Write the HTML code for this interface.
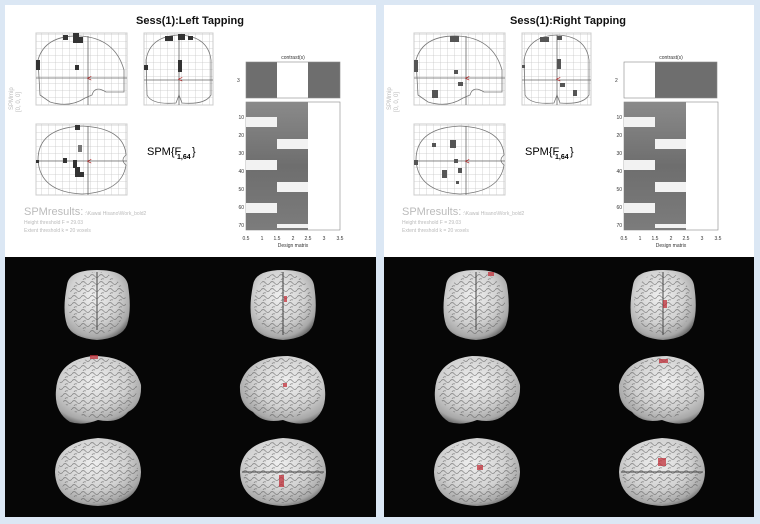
<!DOCTYPE html>
<html><head><meta charset="utf-8"><style>
html,body{margin:0;padding:0;background:#dbe7f4;width:760px;height:524px;overflow:hidden}
svg{display:block}
text{font-family:"Liberation Sans",Arial,sans-serif}
</style></head><body>
<svg width="760" height="524" viewBox="0 0 760 524" xmlns="http://www.w3.org/2000/svg">
<defs>
<pattern id="grid" width="7" height="7" patternUnits="userSpaceOnUse">
<path d="M7 0V7M0 7H7" stroke="#c8c8c8" stroke-width="0.8" fill="none"/>
</pattern>
<radialGradient id="br" cx="45%" cy="38%" r="68%">
<stop offset="0" stop-color="#efefef"/><stop offset="0.55" stop-color="#d2d2d2"/><stop offset="0.85" stop-color="#a8a8a8"/><stop offset="1" stop-color="#5a5a5a"/>
</radialGradient>
<linearGradient id="cg" x1="0" y1="0" x2="0" y2="1">
<stop offset="0" stop-color="#8a8a8a"/><stop offset="0.5" stop-color="#6e6e6e"/><stop offset="1" stop-color="#7c7c7c"/>
</linearGradient>
<pattern id="gyri" width="9" height="7" patternUnits="userSpaceOnUse">
<path d="M0 3 Q2 0 4.5 3 T9 3 M2 7 Q3 5 5 6" stroke="#555" stroke-width="0.9" fill="none" opacity="0.55"/>
</pattern>
<g id="glass">
<rect x="36" y="33" width="91" height="72" fill="url(#grid)" stroke="#ccc"/>
<path d="M40 95 L38 60 Q45 35 80 36 Q115 38 124 70 L124 92 L106 92 Q95 85 92 95 L85 98 Q70 108 50 102 Z" fill="none" stroke="#777" stroke-width="0.8"/>
<line x1="88" y1="36" x2="88" y2="105" stroke="#666" stroke-width="0.8"/>
<line x1="36" y1="78" x2="127" y2="78" stroke="#666" stroke-width="0.8"/>
<rect x="144" y="33" width="69" height="72" fill="url(#grid)" stroke="#ccc"/>
<path d="M147 95 L146 60 Q150 36 179 35 Q208 36 211 60 L211 95 Q205 105 182 103 L179 95 L176 103 Q152 105 147 95 Z" fill="none" stroke="#777" stroke-width="0.8"/>
<line x1="179" y1="35" x2="179" y2="105" stroke="#666" stroke-width="0.8"/>
<line x1="144" y1="80" x2="213" y2="80" stroke="#666" stroke-width="0.8"/>
<rect x="36" y="124" width="91" height="71" fill="url(#grid)" stroke="#ccc"/>
<path d="M38 160 Q38 128 82 126 Q124 128 126 155 Q120 160 126 165 Q122 192 82 194 Q40 192 38 160 Z" fill="none" stroke="#777" stroke-width="0.8"/>
<line x1="88" y1="126" x2="88" y2="195" stroke="#666" stroke-width="0.8"/>
<line x1="36" y1="161" x2="127" y2="161" stroke="#666" stroke-width="0.8"/>
<text x="147" y="155" font-size="11" fill="#000">SPM{F</text><text x="177" y="159" font-size="7" fill="#000" font-weight="bold">1,64</text><text x="192" y="155" font-size="11">}</text>
<text x="24" y="215" font-size="11" fill="#bbb">SPMresults:</text><text x="85" y="215" font-size="5" fill="#bbb">:\Kawai Hisano\Work_bold2</text>
<text x="24" y="224" font-size="5" fill="#bbb">Height threshold F = 29.03</text>
<text x="24" y="232" font-size="5" fill="#bbb">Extent threshold k = 20 voxels</text>
<text x="13" y="110" font-size="6" fill="#bbb" transform="rotate(-90 13 110)">SPMmip</text>
<text x="20" y="112" font-size="6" fill="#bbb" transform="rotate(-90 20 112)">[0, 0, 0]</text>
<text x="293" y="59" font-size="5" fill="#333" text-anchor="middle">contrast(s)</text>
<rect x="246" y="102" width="94" height="128" fill="#fff" stroke="#888" stroke-width="0.6"/>
<text x="293" y="247" font-size="5" fill="#333" text-anchor="middle">Design matrix</text>
<g font-size="5" fill="#333" text-anchor="middle">
<text x="246" y="240">0.5</text><text x="262" y="240">1</text><text x="277" y="240">1.5</text><text x="293" y="240">2</text><text x="308" y="240">2.5</text><text x="324" y="240">3</text><text x="340" y="240">3.5</text>
</g>
<g font-size="5" fill="#333" text-anchor="end">
<text x="244" y="119">10</text><text x="244" y="137">20</text><text x="244" y="155">30</text><text x="244" y="173">40</text><text x="244" y="191">50</text><text x="244" y="209">60</text><text x="244" y="227">70</text>
</g>
<rect x="246" y="102" width="31" height="128" fill="url(#cg)"/>
<rect x="246" y="117" width="31" height="10" fill="#f2f2f2"/>
<rect x="246" y="160" width="31" height="10" fill="#f2f2f2"/>
<rect x="246" y="203" width="31" height="10" fill="#f2f2f2"/>
<rect x="277" y="102" width="31" height="128" fill="url(#cg)"/>
<rect x="277" y="139" width="31" height="10" fill="#f2f2f2"/>
<rect x="277" y="182" width="31" height="10" fill="#f2f2f2"/>
<rect x="277" y="224" width="31" height="4" fill="#f2f2f2"/>
</g>
<path id="front" d="M-30 -20 Q-28 -35 0 -35 Q28 -35 31 -20 Q35 5 30 20 Q25 33 0 35 Q-25 33 -30 20 Q-35 5 -30 -20 Z"/>
<path id="lat" d="M-42 0 Q-40 -30 -5 -34 Q35 -34 43 -5 Q44 15 30 22 Q20 34 0 30 Q-15 36 -28 32 Q-44 22 -42 0 Z"/>
<path id="bot" d="M-43 0 Q-42 -30 0 -34 Q42 -32 43 0 Q42 32 0 34 Q-42 32 -43 0 Z"/>
</defs>

<rect x="5" y="5" width="371" height="252" fill="#fff"/>
<rect x="384" y="5" width="370" height="252" fill="#fff"/>
<rect x="5" y="257" width="371" height="260" fill="#060606"/>
<rect x="384" y="257" width="370" height="260" fill="#060606"/>

<text x="190" y="24" font-size="11" text-anchor="middle" font-weight="bold" fill="#111">Sess(1):Left Tapping</text>
<use href="#glass"/>
<rect x="246" y="62" width="31" height="36" fill="#6e6e6e"/>
<rect x="277" y="62" width="31" height="36" fill="#fff"/>
<rect x="308" y="62" width="32" height="36" fill="#6e6e6e"/>
<rect x="246" y="62" width="94" height="36" fill="none" stroke="#888" stroke-width="0.6"/>
<text x="237" y="82" font-size="5" fill="#333">3</text>
<g fill="#333">
<rect x="63" y="35" width="5" height="5"/><rect x="73" y="33" width="6" height="10"/><rect x="78" y="37" width="5" height="6"/>
<rect x="36" y="60" width="4" height="10"/><rect x="75" y="65" width="4" height="5"/>
<rect x="165" y="36" width="8" height="5"/><rect x="178" y="34" width="7" height="6"/><rect x="188" y="36" width="5" height="4"/>
<rect x="144" y="65" width="4" height="5"/><rect x="178" y="60" width="4" height="12"/>
<rect x="75" y="125" width="5" height="5"/><rect x="78" y="145" width="4" height="7" fill="#777"/>
<rect x="36" y="160" width="3" height="3"/><rect x="63" y="158" width="4" height="5"/><rect x="73" y="160" width="4" height="8"/><rect x="75" y="167" width="5" height="10"/><rect x="78" y="172" width="6" height="5"/>
</g>
<text x="87" y="81" font-size="8" fill="#a00">&lt;</text><text x="178" y="82" font-size="8" fill="#a00">&lt;</text><text x="87" y="164" font-size="8" fill="#a00">&lt;</text>

<text x="568" y="24" font-size="11" text-anchor="middle" font-weight="bold" fill="#111">Sess(1):Right Tapping</text>
<use href="#glass" x="378"/>
<rect x="624" y="62" width="31" height="36" fill="#fff"/>
<rect x="655" y="62" width="62" height="36" fill="#6e6e6e"/>
<rect x="624" y="62" width="93" height="36" fill="none" stroke="#888" stroke-width="0.6"/>
<text x="615" y="82" font-size="5" fill="#333">2</text>
<g fill="#555">
<rect x="450" y="36" width="9" height="6"/><rect x="414" y="60" width="4" height="12"/><rect x="454" y="70" width="4" height="4"/>
<rect x="458" y="82" width="5" height="4"/><rect x="432" y="90" width="6" height="8"/>
<rect x="540" y="37" width="9" height="5"/><rect x="557" y="36" width="5" height="4"/><rect x="557" y="59" width="4" height="10"/>
<rect x="560" y="83" width="5" height="4"/><rect x="573" y="90" width="4" height="6"/><rect x="522" y="65" width="3" height="3"/>
<rect x="450" y="140" width="6" height="8"/><rect x="432" y="143" width="4" height="4"/><rect x="414" y="160" width="4" height="5"/>
<rect x="454" y="159" width="4" height="4"/><rect x="442" y="170" width="5" height="8"/><rect x="458" y="168" width="4" height="5"/><rect x="456" y="181" width="3" height="3"/>
</g>
<text x="465" y="81" font-size="8" fill="#a00">&lt;</text><text x="556" y="82" font-size="8" fill="#a00">&lt;</text><text x="465" y="164" font-size="8" fill="#a00">&lt;</text>

<g fill="url(#br)">
<use href="#front" x="97" y="305"/><use href="#front" x="283" y="305"/>
<use href="#lat" x="98" y="390"/><use href="#lat" x="283" y="390" transform="translate(566 0) scale(-1 1)"/>
<use href="#bot" x="98" y="472"/><use href="#bot" x="283" y="472"/>
<use href="#front" x="476" y="305"/><use href="#front" x="663" y="305"/>
<use href="#lat" x="477" y="390"/><use href="#lat" x="662" y="390" transform="translate(1324 0) scale(-1 1)"/>
<use href="#bot" x="477" y="472"/><use href="#bot" x="662" y="472"/>
</g>
<g fill="url(#gyri)">
<ellipse cx="97" cy="303" rx="29" ry="31"/><ellipse cx="283" cy="303" rx="29" ry="31"/>
<ellipse cx="98" cy="388" rx="39" ry="30"/><ellipse cx="283" cy="388" rx="39" ry="30"/>
<ellipse cx="98" cy="472" rx="40" ry="31"/><ellipse cx="283" cy="472" rx="40" ry="31"/>
<ellipse cx="476" cy="303" rx="29" ry="31"/><ellipse cx="663" cy="303" rx="29" ry="31"/>
<ellipse cx="477" cy="388" rx="39" ry="30"/><ellipse cx="662" cy="388" rx="39" ry="30"/>
<ellipse cx="477" cy="472" rx="40" ry="31"/><ellipse cx="662" cy="472" rx="40" ry="31"/>
</g>
<g stroke="#444" stroke-width="1">
<line x1="97" y1="272" x2="97" y2="330"/><line x1="283" y1="272" x2="283" y2="335"/>
<line x1="476" y1="272" x2="476" y2="330"/><line x1="663" y1="272" x2="663" y2="335"/>
<line x1="242" y1="472" x2="324" y2="472"/><line x1="621" y1="472" x2="703" y2="472"/>
</g>
<g fill="#c0303a" opacity="0.75">
<rect x="90" y="355" width="8" height="4"/><rect x="284" y="296" width="3" height="6"/><rect x="283" y="383" width="4" height="4"/>
<rect x="279" y="475" width="5" height="12"/><rect x="488" y="272" width="6" height="4"/><rect x="663" y="300" width="4" height="8"/>
<rect x="659" y="359" width="9" height="4"/><rect x="658" y="458" width="8" height="8"/><rect x="477" y="465" width="6" height="5"/>
</g>
</svg>
</body></html>
